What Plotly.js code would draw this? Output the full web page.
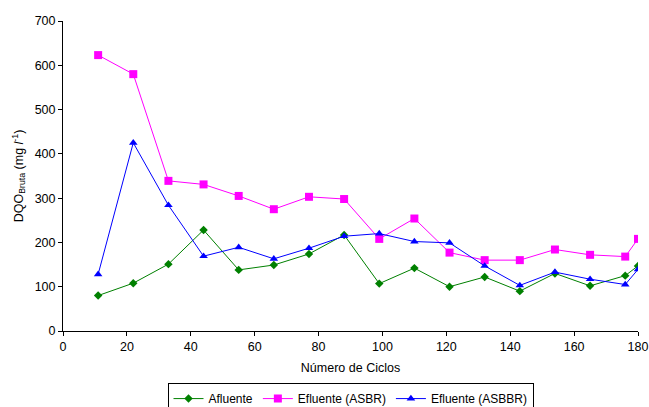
<!DOCTYPE html>
<html>
<head>
<meta charset="utf-8">
<script src="https://cdn.plot.ly/plotly-3.0.1.min.js"></script>
<style>html,body{margin:0;padding:0;background:#fff;}#chart{width:649px;height:407px;}</style>
</head>
<body>
<div id="chart"></div>
<script>
var ciclos = [11, 22, 33, 44, 55, 66, 77, 88, 99, 110, 121, 132, 143, 154, 165, 176, 180];
var afluente = [80, 108, 151, 228, 138, 149, 174, 217, 107, 142, 100, 122, 90, 130, 102, 125, 147];
var efluenteASBR = [623, 580, 339, 331, 305, 275, 303, 298, 208, 254, 177, 160, 160, 184, 172, 168, 208];
var efluenteASBBR = [128, 425, 284, 169, 189, 163, 187, 214, 220, 202, 199, 147, 103, 133, 117, 105, 139];
var seriesNames = ["Afluente", "Efluente (ASBR)", "Efluente (ASBBR)"];

var traces = [
  {x: ciclos, y: afluente, name: seriesNames[0], mode: "lines+markers", type: "scatter",
   line: {color: "#008000", width: 1}, marker: {symbol: "diamond", size: 6.5, color: "#008000"}},
  {x: ciclos, y: efluenteASBR, name: seriesNames[1], mode: "lines+markers", type: "scatter",
   line: {color: "#FF00FF", width: 1}, marker: {symbol: "square", size: 8, color: "#FF00FF"}},
  {x: ciclos, y: efluenteASBBR, name: seriesNames[2], mode: "lines+markers", type: "scatter",
   line: {color: "#0000FF", width: 1}, marker: {symbol: "triangle-up", size: 7.5, color: "#0000FF"}}
];

var layout = {
  width: 649, height: 407,
  margin: {l: 63, r: 11, t: 21, b: 76, autoexpand: false},
  paper_bgcolor: "#fff", plot_bgcolor: "#fff",
  font: {family: "Liberation Sans, Arial, sans-serif", size: 12.5, color: "#000"},
  showlegend: true,
  legend: {orientation: "h", x: 0.5, xanchor: "center", y: -0.168, yanchor: "top",
           bordercolor: "#000", borderwidth: 1, font: {size: 12},
           itemwidth: 30, tracegroupgap: 0},
  xaxis: {range: [0, 180], dtick: 20, tick0: 0, showgrid: false, zeroline: false,
          showline: true, linecolor: "#000", linewidth: 1, ticks: "outside", ticklen: 4,
          tickcolor: "#000", title: {text: "Número de Ciclos", standoff: 10, font: {size: 12.5}}},
  yaxis: {range: [0, 700], dtick: 100, tick0: 0, showgrid: false, zeroline: false,
          showline: true, linecolor: "#000", linewidth: 1, ticks: "outside", ticklen: 4,
          tickcolor: "#000",
          title: {text: "DQO<sub>Bruta</sub> (mg <i>l</i><sup>-1</sup>)", standoff: 8, font: {size: 12.5}}}
};

Plotly.newPlot("chart", traces, layout, {displayModeBar: false, staticPlot: true});
</script>
</body>
</html>
